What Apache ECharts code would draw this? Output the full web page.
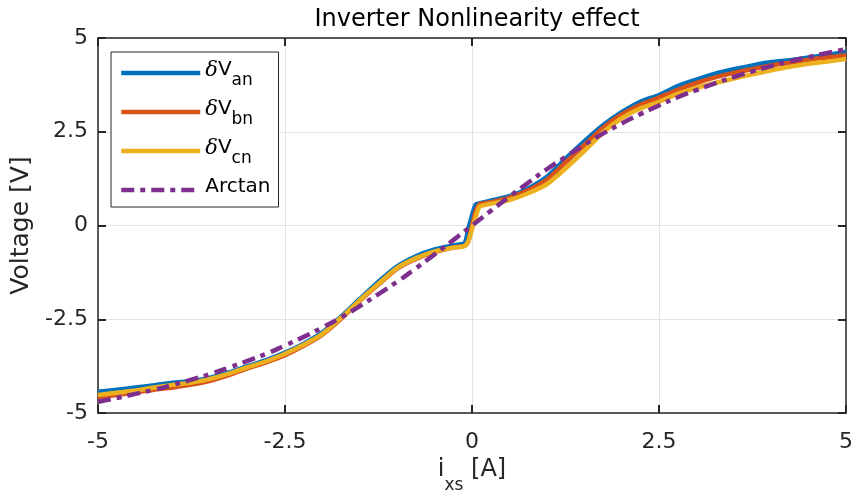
<!DOCTYPE html>
<html>
<head>
<meta charset="utf-8">
<script src="https://cdn.jsdelivr.net/npm/echarts@6/dist/echarts.min.js"></script>
<style>
html,body{margin:0;padding:0;background:#fff;}
#chart{width:856px;height:501px;}
</style>
</head>
<body>
<div id="chart"></div>
<script>
// ---- data ----
var xs = [-5,-4.75,-4.5,-4.25,-4,-3.75,-3.5,-3.25,-3,-2.75,-2.5,-2.25,-2,-1.75,-1.5,-1.25,-1,-0.75,-0.5,-0.25,-0.1,-0.05,0,0.05,0.1,0.25,0.5,0.75,1,1.25,1.5,1.75,2,2.25,2.5,2.75,3,3.25,3.5,3.75,4,4.25,4.5,4.75,5];
var dVan = [-4.43,-4.38,-4.32,-4.26,-4.19,-4.15,-4.06,-3.92,-3.75,-3.59,-3.39,-3.15,-2.85,-2.43,-1.96,-1.50,-1.09,-0.82,-0.64,-0.53,-0.47,-0.10,0.27,0.56,0.59,0.66,0.78,0.99,1.30,1.78,2.24,2.67,3.02,3.30,3.48,3.72,3.89,4.05,4.17,4.27,4.36,4.41,4.48,4.55,4.63];
var dVbn = [-4.58,-4.52,-4.45,-4.38,-4.32,-4.24,-4.14,-3.99,-3.81,-3.65,-3.46,-3.21,-2.91,-2.49,-2.01,-1.57,-1.15,-0.89,-0.71,-0.59,-0.54,-0.43,0.00,0.38,0.56,0.62,0.74,0.94,1.22,1.68,2.14,2.60,2.96,3.22,3.41,3.62,3.80,3.95,4.07,4.17,4.27,4.34,4.42,4.48,4.54];
var dVcn = [-4.52,-4.46,-4.40,-4.32,-4.25,-4.19,-4.09,-3.95,-3.78,-3.62,-3.42,-3.18,-2.89,-2.46,-1.99,-1.55,-1.13,-0.87,-0.69,-0.59,-0.55,-0.42,-0.10,0.23,0.50,0.58,0.68,0.86,1.10,1.52,1.98,2.48,2.86,3.12,3.30,3.51,3.67,3.80,3.92,4.03,4.14,4.23,4.31,4.37,4.44];
var xsArctan = [-5,-4.75,-4.5,-4.25,-4,-3.75,-3.5,-3.25,-3,-2.75,-2.5,-2.25,-2,-1.75,-1.5,-1.25,-1,-0.75,-0.5,-0.25,0,0.25,0.5,0.75,1,1.25,1.5,1.75,2,2.25,2.5,2.75,3,3.25,3.5,3.75,4,4.25,4.5,4.75,5];
var arctan = [-4.70,-4.60,-4.49,-4.38,-4.25,-4.11,-3.96,-3.79,-3.61,-3.42,-3.20,-2.97,-2.72,-2.45,-2.15,-1.83,-1.50,-1.14,-0.77,-0.39,0,0.39,0.77,1.14,1.50,1.83,2.15,2.45,2.72,2.97,3.20,3.42,3.61,3.79,3.96,4.11,4.25,4.38,4.49,4.60,4.70];
var seriesNames = ['dVan','dVbn','dVcn','Arctan'];
var subscripts = {dVan:'an', dVbn:'bn', dVcn:'cn'};
var title = 'Inverter Nonlinearity effect';
var yName = 'Voltage [V]';

function pairs(x, y){ return x.map(function(v,i){ return [v, y[i]]; }); }

var FONT = "'DejaVu Sans', 'Liberation Sans', sans-serif";
var AX = '#262626';
var chart = echarts.init(document.getElementById('chart'), null, {renderer:'canvas'});

function axisCommon(extra){
  var o = {
    type:'value', min:-5, max:5, interval:2.5,
    axisLine:{show:true, onZero:false, lineStyle:{color:AX, width:1.5}},
    axisTick:{show:true, inside:true, length:8, lineStyle:{color:AX, width:2}},
    splitLine:{show:false},
    axisLabel:{show:false}
  };
  for (var k in extra) o[k] = extra[k];
  return o;
}

var option = {
  backgroundColor:'#ffffff',
  animation:false,
  title:{
    text:title, left:472, top:3, textAlign:'center',
    textStyle:{fontFamily:FONT, fontSize:24, fontWeight:'normal', color:'#000'}
  },
  grid:{left:98, right:10, top:38, bottom:88, containLabel:false},
  xAxis:[
    axisCommon({
      position:'bottom',
      splitLine:{show:true, lineStyle:{color:'#e3e3e3', width:1}},
      axisLabel:{show:true, margin:18, fontFamily:FONT, fontSize:22, color:'#262626', lineHeight:22},
      name:'{i|i}{s|xs}{i| [A]}', nameLocation:'middle', nameGap:44,
      nameTextStyle:{rich:{
        i:{fontFamily:FONT, fontSize:24, color:'#262626', verticalAlign:'top', lineHeight:28},
        s:{fontFamily:FONT, fontSize:17, color:'#262626', verticalAlign:'top', lineHeight:20, padding:[19,0,0,0]}
      }}
    }),
    axisCommon({position:'top'})
  ],
  yAxis:[
    axisCommon({
      position:'left',
      splitLine:{show:true, lineStyle:{color:'#e3e3e3', width:1}},
      axisLabel:{show:true, margin:10, fontFamily:FONT, fontSize:22, color:'#262626'},
      name:yName, nameLocation:'middle', nameGap:62, nameRotate:90,
      nameTextStyle:{fontFamily:FONT, fontSize:25, color:'#262626'}
    }),
    axisCommon({position:'right'})
  ],
  legend:{
    orient:'vertical', left:111, top:52,
    padding:[8,8,10,8],
    itemGap:10,
    itemWidth:79, itemHeight:14,
    backgroundColor:'#fff', borderColor:AX, borderWidth:1,
    itemStyle:{opacity:0},
    lineStyle:{width:4.5},
    data:seriesNames,
    formatter:function(n){
      if (n === 'Arctan') return '{n|Arctan}';
      return '{d|δ}{n|V}{s|' + subscripts[n] + '}';
    },
    textStyle:{
      color:'#000',
      rich:{
        d:{fontFamily:"'DejaVu Serif', serif", fontStyle:'italic', fontSize:21, color:'#000', verticalAlign:'top', lineHeight:26},
        n:{fontFamily:FONT, fontSize:20, color:'#000', verticalAlign:'top', lineHeight:26},
        s:{fontFamily:FONT, fontSize:17, color:'#000', verticalAlign:'top', lineHeight:20, padding:[12,0,0,0]}
      }
    }
  },
  series:[
    {name:'dVan', type:'line', data:pairs(xs,dVan), symbol:'none', showSymbol:false, smooth:0.2,
     lineStyle:{color:'#0072BD', width:4.5}, itemStyle:{color:'#0072BD'}, z:2},
    {name:'dVbn', type:'line', data:pairs(xs,dVbn), symbol:'none', showSymbol:false, smooth:0.2,
     lineStyle:{color:'#D95319', width:4.5}, itemStyle:{color:'#D95319'}, z:3},
    {name:'dVcn', type:'line', data:pairs(xs,dVcn), symbol:'none', showSymbol:false, smooth:0.2,
     lineStyle:{color:'#EDB120', width:4.5}, itemStyle:{color:'#EDB120'}, z:4},
    {name:'Arctan', type:'line', data:pairs(xsArctan,arctan), symbol:'none', showSymbol:false, smooth:true,
     lineStyle:{color:'#7E2F8E', width:4.5, type:[13,6,5,6]}, itemStyle:{color:'#7E2F8E'}, z:5}
  ]
};
chart.setOption(option);
</script>
</body>
</html>
